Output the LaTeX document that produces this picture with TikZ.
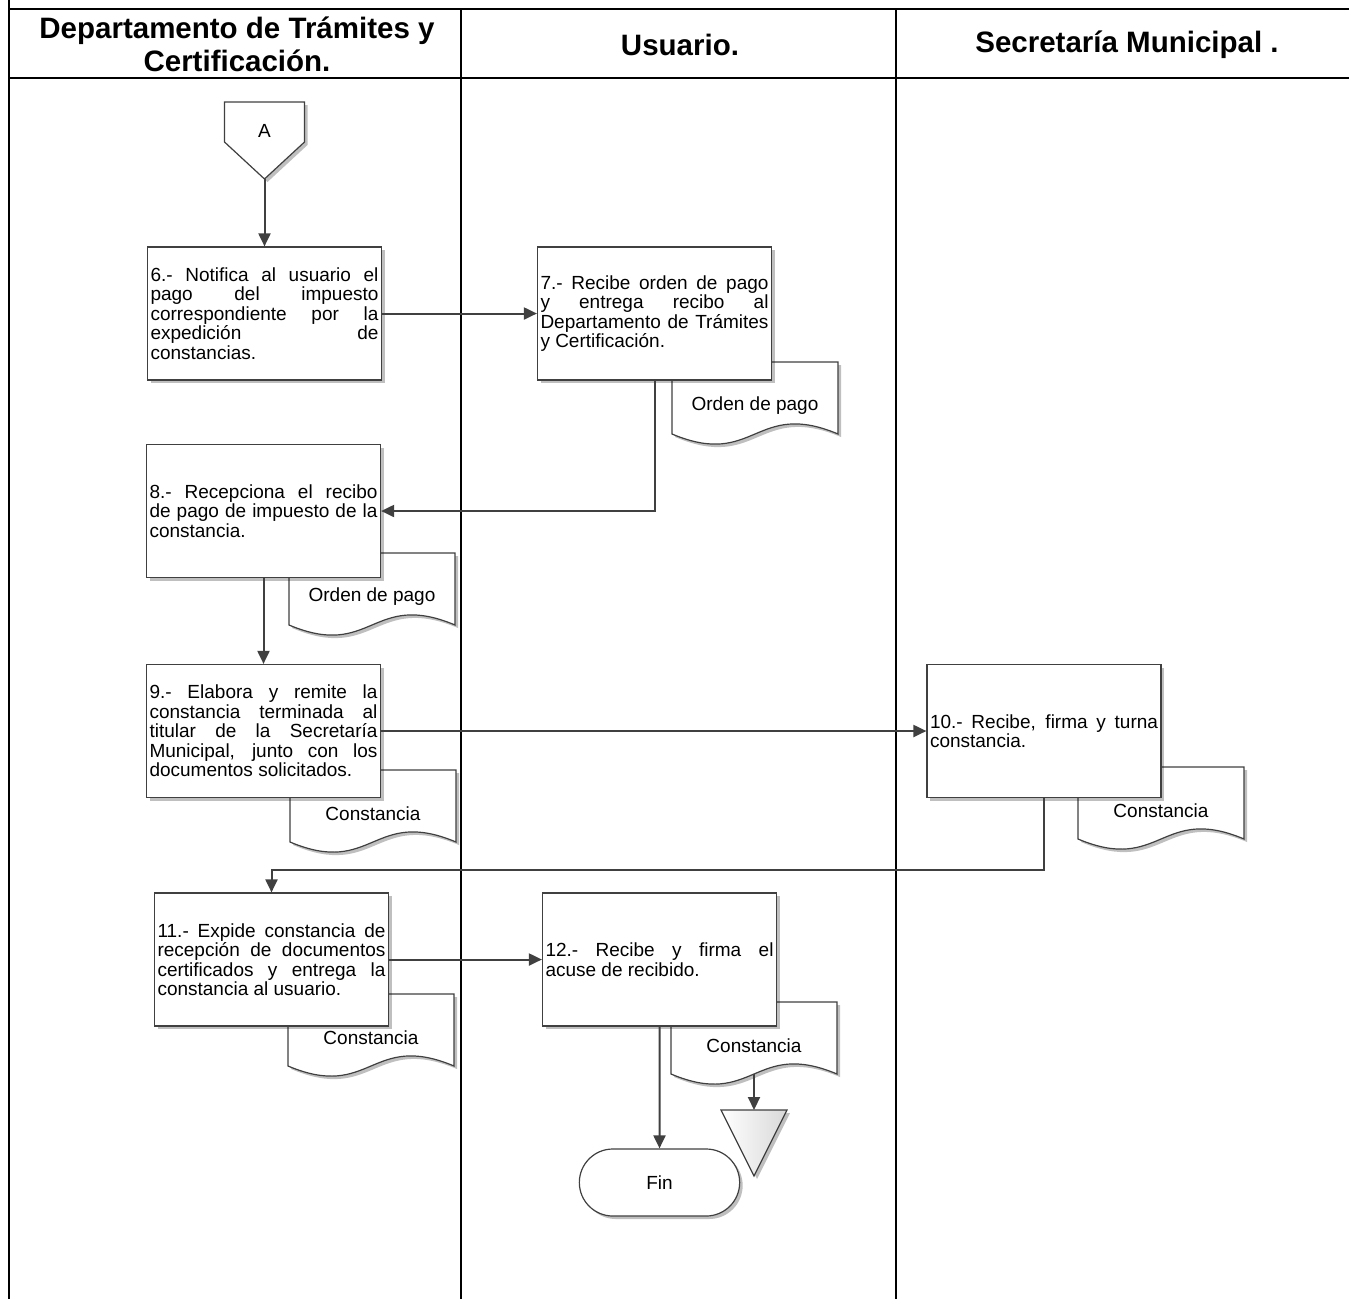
\documentclass[tikz,border=0pt]{standalone}
\usepackage{fontspec}
\setmainfont{Liberation Sans}
\usepackage{xcolor}
\usetikzlibrary{arrows.meta, positioning, shapes.misc, shadows}
\definecolor{edge}{HTML}{404040}
\hyphenpenalty=10000
\tolerance=10000
\hbadness=10000

% document symbol: name, left x, top y, label
\newcommand{\docsym}[4]{%
  \pgfmathsetmacro\dr{#2+166}\pgfmathsetmacro\dm{#2+83}\pgfmathsetmacro\db{#3+72}%
  \draw[doc] (#2,#3) -- (\dr,#3) -- (\dr,\db)
    .. controls (\dm,\db-35) and (\dm,\db+35) .. (#2,\db) -- cycle;
  \node[doclbl] (#1) at (\dm,#3+44) {#4};
  \coordinate (#1-end) at (\dm,\db);
}

\begin{document}
\begin{tikzpicture}[x=1pt, y=-1pt,
      frame/.style={line width=2.6pt},
      lane/.style={line width=2pt},
      head/.style={font=\fontsize{29.5}{33}\selectfont\bfseries, align=center},
      shdw/.style={drop shadow={shadow xshift=3pt, shadow yshift=-3pt,
                   opacity=0.25, fill=black}},
      box/.style={draw=edge, line width=1.2pt, fill=white, shdw,
                  text width=228pt, inner xsep=3pt, inner ysep=0pt,
                  minimum height=133pt, align=justify,
                  font=\fontsize{19}{19.5}\selectfont},
      doc/.style={draw=edge, line width=1.2pt, fill=white, shdw},
      doclbl/.style={font=\fontsize{19}{22}\selectfont},
      term/.style={rounded rectangle, draw=edge, line width=1.2pt, fill=white,
                   shdw, minimum width=167pt, minimum height=67pt,
                   font=\fontsize{19}{22}\selectfont},
      a/.style={draw=edge, line width=2pt, -{Triangle[length=13pt,width=12pt]}},
    ]
    \useasboundingbox (0,0) rectangle (1349,1299);

    % ---- swimlane frame ----
    \draw[frame] (9,0) -- (9,1299);
    \draw[frame] (9,9) -- (1349,9);
    \draw[frame] (9,78) -- (1349,78);
    \draw[lane] (461,9) -- (461,1299);
    \draw[lane] (896,9) -- (896,1299);
    \node[head] (hdep) at (237,44) {Departamento de Trámites y\\Certificación.};
    \node[head] (husr) at (680,45) {Usuario.};
    \node[head] (hsec) at (1127,45) {Secretaría Municipal .};

    % ---- off-page connector ----
    \draw[doc] (224.5,102) -- (304.5,102) -- (304.5,142) -- (264.5,179)
      -- (224.5,142) -- cycle;
    \node[doclbl] (conA) at (264.5,131) {A};
    \coordinate (conAtip) at (264.5,179);

    % ---- documents (behind the steps) ----
    \docsym{d7}{672}{362}{Orden de pago}
    \docsym{d8}{289}{553}{Orden de pago}
    \docsym{d9}{290}{770}{Constancia}
    \docsym{d10}{1078}{767}{Constancia}
    \docsym{d11}{288}{994}{Constancia}
    \docsym{d12}{671}{1002}{Constancia}

    % ---- steps ----
    \node[box] (s6) at (264.5,313.5) {6.- Notifica al usuario el\linebreak
      pago del impuesto\linebreak correspondiente por la\linebreak
      expedición de\linebreak constancias.};
    \node[box] (s7) at (654.5,313.5) {7.- Recibe orden de pago\linebreak
      y entrega recibo al\linebreak Departamento de Trámites\linebreak
      y Certificación.};
    \node[box] (s8) at (263.5,511) {8.- Recepciona el recibo\linebreak
      de pago de impuesto de la\linebreak constancia.};
    \node[box] (s9) at (263.5,731) {9.- Elabora y remite la\linebreak
      constancia terminada al\linebreak titular de la Secretaría\linebreak
      Municipal, junto con los\linebreak documentos solicitados.};
    \node[box] (s10) at (1044,731) {10.- Recibe, firma y turna\linebreak
      constancia.};
    \node[box] (s11) at (271.5,959.5) {11.- Expide constancia de\linebreak
      recepción de documentos\linebreak certificados y entrega la\linebreak
      constancia al usuario.};
    \node[box] (s12) at (659.5,959.5) {12.- Recibe y firma el\linebreak
      acuse de recibido.};

    % ---- end ----
    \node[term] (fin) at (659.5,1182.5) {Fin};
    \draw[doc, left color=white, right color=gray!30]
      (721,1110) -- (787,1110) -- (754,1176) -- cycle;
    \coordinate (archtop) at (754,1110);

    % ---- arcs ----
    \draw[a] (conAtip) -- (s6);
    \draw[a] (s6) -- (s7);
    \draw[a] (s7.south) |- (s8.east);
    \draw[a] (s8) -- (s9);
    \draw[a] (s9) -- (s10);
    \draw[a] (s10.south) -- ++(0,72) -| (s11.north);
    \draw[a] (s11) -- (s12);
    \draw[a] (s12) -- (fin);
    \draw[a] (d12-end) -- (archtop);
  \end{tikzpicture}
\end{document}
